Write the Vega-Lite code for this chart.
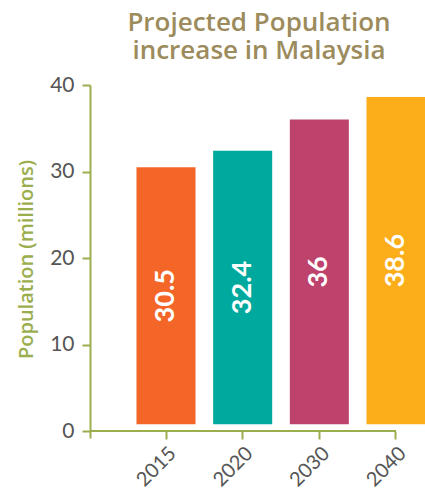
{
  "$schema": "https://vega.github.io/schema/vega-lite/v6.json",
  "autosize": {"type": "none"},
  "padding": {"left": 90, "top": 85, "right": 29, "bottom": 53},
  "width": 306,
  "height": 353,
  "config": {"font": "Lato", "view": {"stroke": null}},
  "title": {
    "text": ["Projected Population", "increase in Malaysia"],
    "font": "Open Sans",
    "fontSize": 26,
    "fontWeight": 600,
    "color": "#9c8b5c",
    "anchor": "middle",
    "dx": 16,
    "lineHeight": 28,
    "offset": 10
  },
  "data": {
    "values": [
      {"year": "2015", "value": 30.5},
      {"year": "2020", "value": 32.4},
      {"year": "2030", "value": 36},
      {"year": "2040", "value": 38.6}
    ]
  },
  "encoding": {
    "x": {
      "field": "year",
      "type": "nominal",
      "sort": null,
      "scale": {"type": "band", "range": [37.67, 344.33], "paddingInner": 0.23, "paddingOuter": 0.115},
      "axis": {
        "title": null,
        "offset": -7,
        "domain": false,
        "tickColor": "#9bae4e",
        "tickWidth": 2,
        "tickSize": 8,
        "labelAngle": -45,
        "labelFontSize": 20,
        "labelColor": "#555555",
        "labelPadding": 4
      }
    }
  },
  "layer": [
    {
      "layer": [
        {
          "mark": {"type": "bar"},
          "encoding": {
            "y": {
              "field": "value",
              "type": "quantitative",
              "scale": {"domain": [-0.8, 40], "nice": false, "zero": false},
              "axis": {
                "values": [0, 10, 20, 30, 40],
                "grid": false,
                "title": "Population (millions)",
                "titleFont": "Open Sans",
                "titleFontSize": 20,
                "titleFontWeight": 600,
                "titleColor": "#9bae4e",
                "titleAngle": -90,
                "titleX": -64,
                "titleY": 174,
                "titleAlign": "center",
                "titleBaseline": "middle",
                "domainColor": "#9bae4e",
                "domainWidth": 2,
                "tickColor": "#9bae4e",
                "tickWidth": 2,
                "tickSize": 8,
                "labelFontSize": 21,
                "labelColor": "#555555",
                "labelPadding": 8
              }
            },
            "y2": {"datum": 0.8},
            "color": {
              "field": "year",
              "type": "nominal",
              "scale": {"domain": ["2015", "2020", "2030", "2040"], "range": ["#f46628", "#00a99d", "#bd426c", "#fbad1a"]},
              "legend": null
            }
          }
        },
        {
          "mark": {"type": "rule", "color": "#9bae4e", "strokeWidth": 2},
          "encoding": {"x": null, "y": {"datum": 0}}
        }
      ]
    },
    {
      "mark": {"type": "text", "angle": 270, "align": "center", "baseline": "middle", "color": "white", "fontSize": 27, "fontWeight": "bold"},
      "encoding": {
        "y": {"field": "value", "type": "quantitative", "scale": {"domain": [-2.4, 79.2], "nice": false, "zero": false}, "axis": null},
        "text": {"field": "value", "type": "quantitative"}
      }
    }
  ],
  "resolve": {"scale": {"y": "independent"}}
}
